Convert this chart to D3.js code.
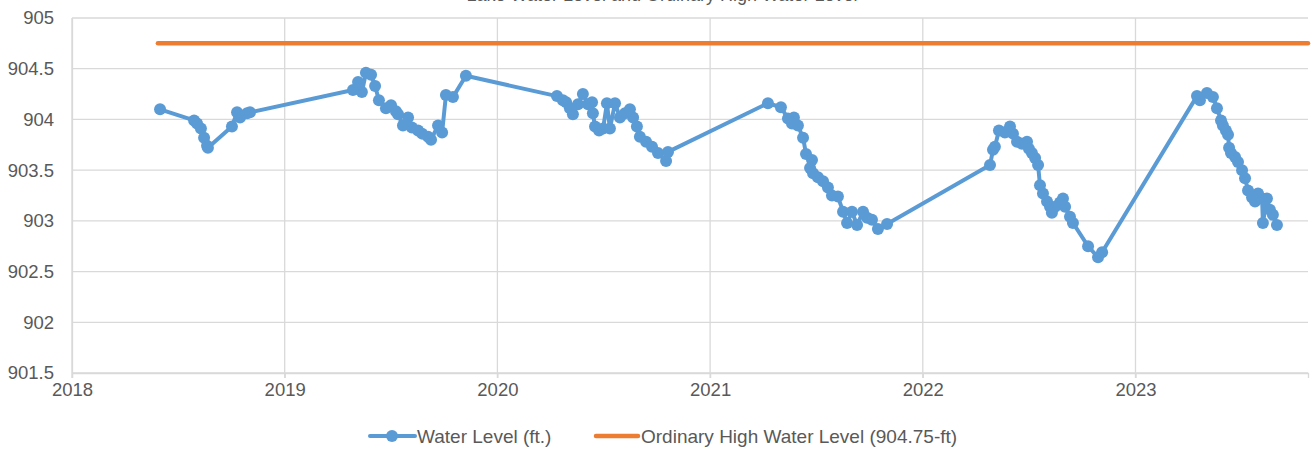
<!DOCTYPE html>
<html>
<head>
<meta charset="utf-8">
<script src="https://cdn.jsdelivr.net/npm/d3@7"></script>
<style>
  body { margin: 0; background: #fff; }
  svg text { font-family: "Liberation Sans", Arial, sans-serif; fill: #595959; }
</style>
</head>
<body>
<div id="chart"></div>
<script>
// observation dates (decimal years) and levels in ft
const dates = [
  2018.414, 2018.574, 2018.588, 2018.606, 2018.621, 2018.635, 2018.639, 2018.752, 2018.776, 2018.790, 2018.823, 2018.837,
  2019.321, 2019.345, 2019.363, 2019.382, 2019.406, 2019.425, 2019.443, 2019.476, 2019.500, 2019.523, 2019.533, 2019.556,
  2019.580, 2019.598, 2019.627, 2019.646, 2019.674, 2019.688, 2019.721, 2019.740, 2019.758, 2019.791, 2019.852,
  2020.280, 2020.308, 2020.323, 2020.341, 2020.355, 2020.379, 2020.402, 2020.426, 2020.445, 2020.449, 2020.459, 2020.478,
  2020.497, 2020.515, 2020.529, 2020.553, 2020.576, 2020.600, 2020.623, 2020.638, 2020.656, 2020.670, 2020.699, 2020.727,
  2020.755, 2020.793, 2020.802,
  2021.272, 2021.333, 2021.366, 2021.385, 2021.394, 2021.413, 2021.437, 2021.451, 2021.479, 2021.470, 2021.484, 2021.507,
  2021.531, 2021.554, 2021.573, 2021.601, 2021.625, 2021.644, 2021.667, 2021.691, 2021.719, 2021.738, 2021.761, 2021.789,
  2021.832,
  2022.316, 2022.330, 2022.339, 2022.358, 2022.386, 2022.410, 2022.424, 2022.443, 2022.466, 2022.490, 2022.499, 2022.513,
  2022.528, 2022.542, 2022.551, 2022.565, 2022.584, 2022.598, 2022.607, 2022.622, 2022.645, 2022.659, 2022.669, 2022.692,
  2022.706, 2022.777, 2022.824, 2022.843,
  2023.289, 2023.303, 2023.336, 2023.364, 2023.383, 2023.402, 2023.411, 2023.425, 2023.435, 2023.440, 2023.449, 2023.468,
  2023.482, 2023.501, 2023.515, 2023.529, 2023.548, 2023.562, 2023.576, 2023.595, 2023.599, 2023.618, 2023.632, 2023.646,
  2023.665
];
const levels = [
  904.10, 903.99, 903.96, 903.91, 903.82, 903.74, 903.72, 903.93, 904.07, 904.02, 904.06, 904.07,
  904.29, 904.37, 904.27, 904.46, 904.44, 904.33, 904.19, 904.11, 904.14, 904.08, 904.05, 903.94,
  904.02, 903.92, 903.89, 903.86, 903.83, 903.80, 903.94, 903.87, 904.24, 904.22, 904.43,
  904.23, 904.19, 904.17, 904.11, 904.05, 904.15, 904.25, 904.15, 904.17, 904.06, 903.93, 903.89,
  903.91, 904.16, 903.91, 904.16, 904.02, 904.06, 904.10, 904.02, 903.93, 903.83, 903.78, 903.73,
  903.67, 903.59, 903.68,
  904.16, 904.12, 904.01, 903.96, 904.02, 903.94, 903.82, 903.66, 903.60, 903.52, 903.47, 903.43,
  903.39, 903.33, 903.25, 903.24, 903.09, 902.98, 903.09, 902.96, 903.09, 903.03, 903.01, 902.92,
  902.97,
  903.55, 903.70, 903.73, 903.89, 903.87, 903.93, 903.86, 903.78, 903.76, 903.78, 903.71, 903.67,
  903.62, 903.55, 903.35, 903.27, 903.19, 903.14, 903.08, 903.14, 903.18, 903.22, 903.14, 903.04,
  902.98, 902.75, 902.64, 902.69,
  904.23, 904.19, 904.26, 904.22, 904.11, 903.99, 903.94, 903.89, 903.85, 903.72, 903.67, 903.63,
  903.58, 903.50, 903.42, 903.30, 903.23, 903.19, 903.27, 903.22, 902.98, 903.22, 903.11, 903.06,
  902.96
];
const ohwDates = [2018.404, 2023.811];
const ohwLevels = [904.75, 904.75];
const yearTicks = [2018, 2019, 2020, 2021, 2022, 2023];
const levelTicks = [901.5, 902, 902.5, 903, 903.5, 904, 904.5, 905];
const seriesNames = ["Water Level (ft.)", "Ordinary High Water Level (904.75-ft)"];
const chartTitle = "Lake Water Level and Ordinary High Water Level";

const width = 1314, height = 451;
const margin = {top: 18, right: 6, bottom: 78, left: 72};
const blue = "#5B9BD5", orange = "#ED7D31", grid = "#D9D9D9";

const svg = d3.select("#chart").append("svg")
    .attr("width", width)
    .attr("height", height);

const x = d3.scaleLinear()
    .domain([2018, 2023.811])
    .range([margin.left, width - margin.right]);
const y = d3.scaleLinear()
    .domain([901.5, 905])
    .range([height - margin.bottom, margin.top]);

// title, cut off at the top edge as in the source image
svg.append("text")
    .attr("x", 662).attr("y", 1)
    .attr("text-anchor", "middle")
    .style("font-size", "18px")
    .text(chartTitle);

// gridlines
svg.append("g")
    .selectAll("line")
    .data(levelTicks)
    .enter().append("line")
    .attr("x1", margin.left).attr("x2", width - margin.right)
    .attr("y1", d => y(d)).attr("y2", d => y(d))
    .attr("stroke", grid).attr("stroke-width", 1.3);

svg.append("g")
    .selectAll("line")
    .data(yearTicks)
    .enter().append("line")
    .attr("x1", d => x(d)).attr("x2", d => x(d))
    .attr("y1", margin.top).attr("y2", height - margin.bottom + 5)
    .attr("stroke", grid).attr("stroke-width", 1.3);

// axes
let xAxis = svg.append("g")
    .attr("transform", "translate(0," + (height - margin.bottom) + ")")
    .call(d3.axisBottom(x).tickValues(yearTicks).tickFormat(d3.format("d")).tickSize(5).tickPadding(5));
let yAxis = svg.append("g")
    .attr("transform", "translate(" + margin.left + ",0)")
    .call(d3.axisLeft(y).tickValues(levelTicks).tickFormat(d => String(d)).tickSize(0).tickPadding(18));

[xAxis, yAxis].forEach(a => {
    a.selectAll(".domain").attr("stroke", grid).attr("stroke-width", 1.3);
    a.selectAll(".tick line").attr("stroke", grid).attr("stroke-width", 1.3);
    a.selectAll("text").style("font-size", "18.5px").style("fill", "#595959")
        .style("font-family", "'Liberation Sans', Arial, sans-serif");
});

// series
const ohw = ohwDates.map((d, i) => ({x: d, y: ohwLevels[i]}));
const water = dates.map((d, i) => ({x: d, y: levels[i]}));

let line = d3.line()
    .x(d => x(d.x))
    .y(d => y(d.y));

svg.append("path")
    .attr("d", line(ohw))
    .attr("fill", "none")
    .attr("stroke", orange)
    .attr("stroke-width", 4.5)
    .attr("stroke-linecap", "round");

svg.append("path")
    .attr("d", line(water))
    .attr("fill", "none")
    .attr("stroke", blue)
    .attr("stroke-width", 4)
    .attr("stroke-linejoin", "round");

svg.selectAll(".pt")
    .data(water)
    .enter().append("circle")
    .attr("class", "pt")
    .attr("cx", d => x(d.x))
    .attr("cy", d => y(d.y))
    .attr("r", 6)
    .attr("fill", blue);

// legend
const legendY = 436;
const legend = svg.append("g");
legend.append("line")
    .attr("x1", 370).attr("x2", 415).attr("y1", legendY).attr("y2", legendY)
    .attr("stroke", blue).attr("stroke-width", 4).attr("stroke-linecap", "round");
legend.append("circle")
    .attr("cx", 392).attr("cy", legendY).attr("r", 6).attr("fill", blue);
legend.append("text")
    .attr("x", 417).attr("y", legendY + 6.5)
    .style("font-size", "19px")
    .text(seriesNames[0]);
legend.append("line")
    .attr("x1", 596).attr("x2", 638).attr("y1", legendY).attr("y2", legendY)
    .attr("stroke", orange).attr("stroke-width", 4.5).attr("stroke-linecap", "round");
legend.append("text")
    .attr("x", 641).attr("y", legendY + 6.5)
    .style("font-size", "19px")
    .text(seriesNames[1]);
</script>
</body>
</html>
